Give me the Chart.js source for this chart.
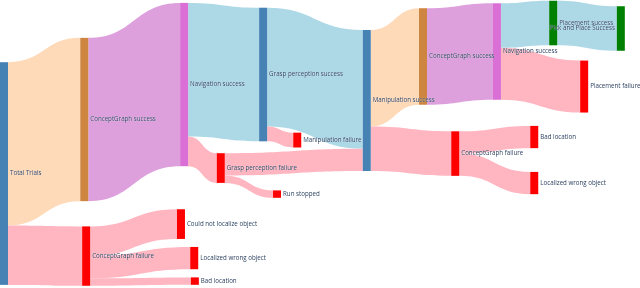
<!DOCTYPE html>
<html>
<head>
<meta charset="utf-8">
<script src="https://cdn.jsdelivr.net/npm/chart.js@4.4.1/dist/chart.umd.min.js"></script>
<style>
  html, body { margin: 0; padding: 0; background: #fff; }
  #wrap { width: 640px; height: 288px; position: relative; }
</style>
</head>
<body>
<div id="wrap"><canvas id="myChart"></canvas></div>
<script>
// nodes of the trial flow
const nodeLabels = [
    'Total Trials', 'ConceptGraph success', 'ConceptGraph failure', 'Navigation success',
    'Grasp perception success', 'Grasp perception failure', 'Manipulation failure', 'Run stopped',
    'Manipulation success', 'ConceptGraph success', 'ConceptGraph failure', 'Bad location',
    'Localized wrong object', 'Navigation success', 'Placement success', 'Placement failure',
    'Pick and Place Success', 'Could not localize object', 'Localized wrong object', 'Bad location'
];

// links: source -> target, number of trials
const linkSource = [0, 0, 1, 3, 3, 4, 4, 5, 5, 8, 8, 10, 10, 9, 13, 13, 14, 2, 2, 2];
const linkTarget = [1, 2, 3, 4, 5, 8, 6, 8, 7, 9, 10, 11, 12, 13, 14, 15, 16, 17, 18, 19];
const linkValue  = [22, 8, 22, 18, 4, 16, 2, 3, 1, 13, 6, 3, 3, 13, 6, 7, 6, 4, 3, 1];

// node placement (x: fraction of width, y: centre in trial units)
const nodeX = [0, 0.127, 0.130, 0.285, 0.410, 0.343, 0.464, 0.432, 0.574, 0.663,
               0.714, 0.839, 0.839, 0.780, 0.869, 0.918, 0.976, 0.280, 0.301, 0.302];
const nodeY = [23.38, 16.10, 34.50, 11.39, 10.04, 22.64, 18.87, 26.15, 13.54, 7.61,
               20.69, 18.46, 24.66, 6.94, 3.10, 11.66, 3.84, 30.19, 34.77, 37.87];

// colours
const nodeColors = ['#4682b4', '#cd853f', '#ff0000', '#da70d6', '#4682b4', '#ff0000', '#ff0000', '#ff0000',
                    '#4682b4', '#cd853f', '#ff0000', '#ff0000', '#ff0000', '#da70d6', '#008000', '#ff0000',
                    '#008000', '#ff0000', '#ff0000', '#ff0000'];
const PEACH = '#ffdab9', PLUM = '#dda0dd', BLUE = '#add8e6', PINK = '#ffb6c1';
const linkColors = [PEACH, PINK, PLUM, BLUE, PINK, BLUE, PINK, PINK, PINK, PEACH,
                    PINK, PINK, PINK, PLUM, BLUE, PINK, BLUE, PINK, PINK, PINK];

const NODE_W = 8;

const sankeyPlugin = {
    id: 'sankey',
    afterDatasetsDraw(chart) {
        const ctx = chart.ctx;
        const xs = chart.scales.x, ys = chart.scales.y;
        const n = nodeLabels.length;

        // node values
        const inSum = new Array(n).fill(0), outSum = new Array(n).fill(0);
        linkValue.forEach((v, i) => { outSum[linkSource[i]] += v; inSum[linkTarget[i]] += v; });
        const nodeVal = inSum.map((v, i) => Math.max(v, outSum[i]));
        const nodeTop = nodeY.map((c, i) => c - nodeVal[i] / 2);

        // stack links on each side
        const idx = linkValue.map((_, i) => i);
        const srcOff = new Array(linkValue.length), tgtOff = new Array(linkValue.length);
        const outUsed = new Array(n).fill(0), inUsed = new Array(n).fill(0);
        idx.slice().sort((a, b) => nodeY[linkTarget[a]] - nodeY[linkTarget[b]]).forEach(i => {
            const s = linkSource[i];
            srcOff[i] = nodeTop[s] + outUsed[s];
            outUsed[s] += linkValue[i];
        });
        idx.slice().sort((a, b) => nodeY[linkSource[a]] - nodeY[linkSource[b]]).forEach(i => {
            const t = linkTarget[i];
            tgtOff[i] = nodeTop[t] + inUsed[t];
            inUsed[t] += linkValue[i];
        });

        ctx.save();
        // links
        idx.forEach(i => {
            const s = linkSource[i], t = linkTarget[i];
            const x0 = xs.getPixelForValue(nodeX[s]) + NODE_W;
            const x1 = xs.getPixelForValue(nodeX[t]);
            const xm = (x0 + x1) / 2;
            const sy0 = ys.getPixelForValue(srcOff[i]), sy1 = ys.getPixelForValue(srcOff[i] + linkValue[i]);
            const ty0 = ys.getPixelForValue(tgtOff[i]), ty1 = ys.getPixelForValue(tgtOff[i] + linkValue[i]);
            ctx.beginPath();
            ctx.moveTo(x0, sy0);
            ctx.bezierCurveTo(xm, sy0, xm, ty0, x1, ty0);
            ctx.lineTo(x1, ty1);
            ctx.bezierCurveTo(xm, ty1, xm, sy1, x0, sy1);
            ctx.closePath();
            ctx.fillStyle = linkColors[i];
            ctx.fill();
        });

        // nodes
        for (let k = 0; k < n; k++) {
            const x = xs.getPixelForValue(nodeX[k]);
            const y0 = ys.getPixelForValue(nodeTop[k]);
            const y1 = ys.getPixelForValue(nodeTop[k] + nodeVal[k]);
            ctx.fillStyle = nodeColors[k];
            ctx.fillRect(x, y0, NODE_W, y1 - y0);
        }

        // labels
        ctx.font = '6.2px "Open Sans"';
        ctx.textBaseline = 'middle';
        ctx.fillStyle = '#2a3f5f';
        for (let k = 0; k < n; k++) {
            const x = xs.getPixelForValue(nodeX[k]);
            const y = ys.getPixelForValue(nodeY[k]);
            const lastCol = nodeX[k] > 0.95;
            ctx.textAlign = lastCol ? 'right' : 'left';
            const tx = lastCol ? x - 2 : x + NODE_W + 2;
            ctx.shadowColor = '#fff';
            ctx.shadowBlur = 1;
            ctx.fillText(nodeLabels[k], tx, y);
        }
        ctx.restore();
    }
};

const ctx = document.getElementById('myChart').getContext('2d');
const myChart = new Chart(ctx, {
    type: 'scatter',
    data: { datasets: [{ data: [] }] },
    options: {
        responsive: true,
        maintainAspectRatio: false,
        animation: false,
        layout: { padding: { left: 0, right: NODE_W, top: 0, bottom: 0 } },
        plugins: { legend: { display: false }, tooltip: { enabled: false } },
        scales: {
            x: { type: 'linear', min: 0, max: 1, display: false },
            y: { type: 'linear', min: 0, max: 38.8, reverse: true, display: false }
        }
    },
    plugins: [sankeyPlugin]
});
</script>
</body>
</html>
